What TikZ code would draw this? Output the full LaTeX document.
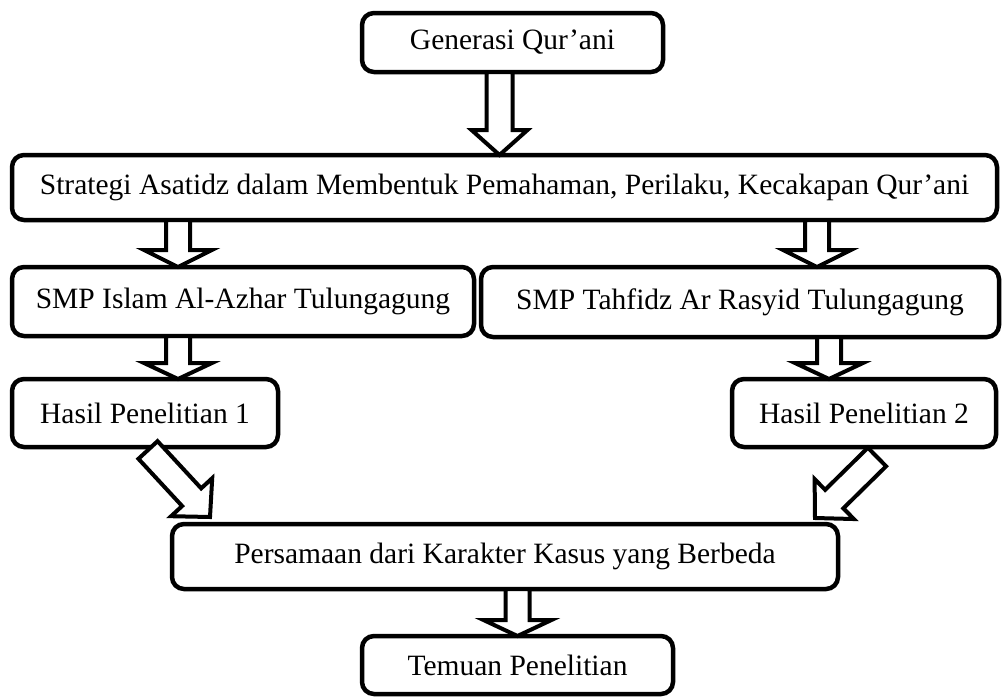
\documentclass[tikz,border=0pt]{standalone}
\usepackage{fontspec}
\setmainfont{Liberation Serif}
\usetikzlibrary{calc}
\newcommand\blockarrow[5]{% #1 tail, #2 tip, #3 shaft half width, #4 head half width, #5 head length
  \coordinate (ba-h) at ($(#2)!#5!(#1)$);
  \draw[barr] ($(#1)!#3!90:(#2)$) -- ($(ba-h)!#3!90:(#2)$) -- ($(ba-h)!#4!90:(#2)$) -- (#2)
    -- ($(ba-h)!#4!-90:(#2)$) -- ($(ba-h)!#3!-90:(#2)$) -- ($(#1)!#3!-90:(#2)$) -- cycle;
}
\begin{document}
\begin{tikzpicture}[x=1pt,y=-1pt,
  box/.style={draw, line width=4.5pt, rounded corners=12pt, inner sep=0pt, outer sep=0pt,
    font=\fontsize{29.5}{35}\selectfont, fill=white},
  barr/.style={draw, line width=4pt, fill=white, line join=miter, miter limit=10}]
\useasboundingbox[fill=white] (0,0) rectangle (1002,699);

\node[box, minimum width=301pt, minimum height=59pt] (gen) at (512.5,42.5) {Generasi Qur’ani};
\node[box, minimum width=985pt, minimum height=65pt] (strat) at (504.5,187.5) {Strategi Asatidz dalam Membentuk Pemahaman, Perilaku, Kecakapan Qur’ani};
\node[box, minimum width=462pt, minimum height=69pt] (smpl) at (243,301.5) {SMP Islam Al-Azhar Tulungagung};
\node[box, minimum width=518pt, minimum height=70pt] (smpr) at (740,302) {SMP Tahfidz Ar Rasyid Tulungagung};
\node[box, minimum width=266pt, minimum height=68pt] (has1) at (145,413) {Hasil Penelitian 1};
\node[box, minimum width=264pt, minimum height=68pt] (has2) at (864,413) {Hasil Penelitian 2};
\node[box, minimum width=666pt, minimum height=65pt] (pers) at (505,556.5) {Persamaan dari Karakter Kasus yang Berbeda};
\node[box, minimum width=311pt, minimum height=58pt] (tem) at (517.5,665) {Temuan Penelitian};

% connectors
\coordinate (a1t) at ($(gen.south)+(-13,0)$);
\coordinate (a1h) at ($(strat.north)+(-5,0)$);
\blockarrow{a1t}{a1h}{13pt}{28pt}{25pt}

\coordinate (a2t) at ($(strat.south -| smpl.south)+(-65,0)$);
\coordinate (a2h) at ($(smpl.north)+(-65,0)$);
\blockarrow{a2t}{a2h}{12pt}{34pt}{17pt}

\coordinate (a3t) at ($(strat.south -| smpr.south)+(77,0)$);
\coordinate (a3h) at ($(smpr.north)+(77,0)$);
\blockarrow{a3t}{a3h}{12pt}{34pt}{17pt}

\coordinate (a4t) at ($(smpl.south)+(-65,0)$);
\coordinate (a4h) at ($(has1.north -| a4t)$);
\blockarrow{a4t}{a4h}{12pt}{34pt}{16pt}

\coordinate (a5t) at ($(smpr.south)+(89,0)$);
\coordinate (a5h) at ($(has2.north -| a5t)$);
\blockarrow{a5t}{a5h}{12pt}{34pt}{16pt}

\coordinate (a6t) at ($(has1.south)+(3,3)$);
\coordinate (a6h) at ($(pers.north west)+(38,-7)$);
\blockarrow{a6t}{a6h}{13pt}{28pt}{27pt}

\coordinate (a7t) at ($(has2.south)+(13,10)$);
\coordinate (a7h) at ($(pers.north east)+(-23,-6)$);
\blockarrow{a7t}{a7h}{13pt}{28pt}{27pt}

\coordinate (a8t) at ($(pers.south)+(12.5,0)$);
\coordinate (a8h) at ($(tem.north -| a8t)$);
\blockarrow{a8t}{a8h}{12pt}{34pt}{16pt}
\end{tikzpicture}
\end{document}
